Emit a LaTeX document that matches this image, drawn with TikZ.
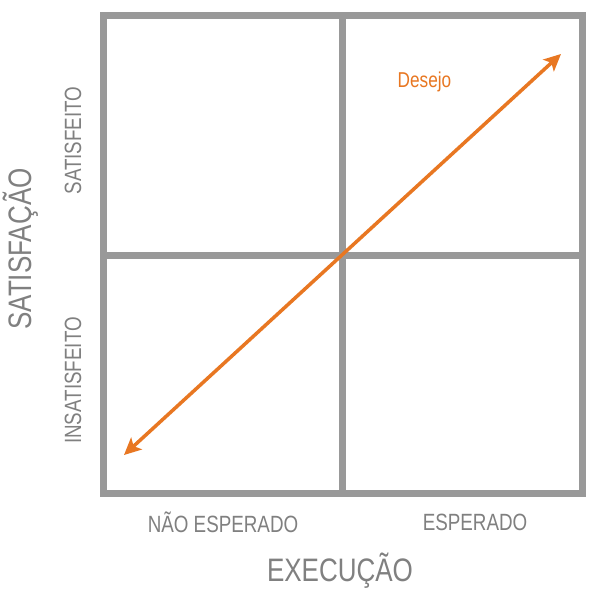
\documentclass[tikz,border=0pt]{standalone}
\usepackage{fontspec}
\setmainfont{Liberation Sans}[FakeStretch=0.8]
\usetikzlibrary{arrows.meta}
\definecolor{framegray}{HTML}{999999}
\definecolor{textgray}{HTML}{808080}
\definecolor{arroworange}{HTML}{E87722}
\begin{document}
\begin{tikzpicture}[x=1pt,y=-1pt,
  frame/.style={draw=framegray,line width=7pt},
  axislabel/.style={text=textgray,inner sep=0pt,anchor=base,font=\fontsize{23.5}{26}\selectfont},
  axistitle/.style={text=textgray,inner sep=0pt,anchor=base,font=\fontsize{32.5}{36}\selectfont},
  desire/.style={draw=arroworange,line width=3.5pt,{Stealth[length=17pt,width=16pt,inset=4pt]}-{Stealth[length=17pt,width=16pt,inset=4pt]}}
]
\useasboundingbox (0,0) rectangle (610,595);
\fill[white] (0,0) rectangle (610,595);
% frame and dividers
\draw[frame] (103,15) rectangle (582,493);
\coordinate (vtop) at (342.5,15);
\coordinate (vbot) at (342.5,493);
\coordinate (hleft) at (103,255);
\coordinate (hright) at (582,255);
\draw[frame] (vtop) -- (vbot);
\draw[frame] (hleft) -- (hright);
% arrow
\coordinate (lowend) at (124,455);
\coordinate (highend) at (561,54);
\draw[desire] (lowend) -- (highend);
\node[text=arroworange,inner sep=0pt,anchor=base,font=\fontsize{21.5}{24}\selectfont] (desejo) at (424.5,87.5) {Desejo};
% labels
\node[axislabel] (naoesp) at (223,532.5) {NÃO ESPERADO};
\node[axislabel] (esp) at (475,530.5) {ESPERADO};
\node[axistitle] (exec) at (340,581) {EXECUÇÃO};
\node[axislabel,rotate=90] (satis) at (81,140.5) {SATISFEITO};
\node[axislabel,rotate=90] (insatis) at (81,380.5) {INSATISFEITO};
\node[axistitle,rotate=90] (satisf) at (31,249) {SATISFAÇÃO};
\end{tikzpicture}
\end{document}
